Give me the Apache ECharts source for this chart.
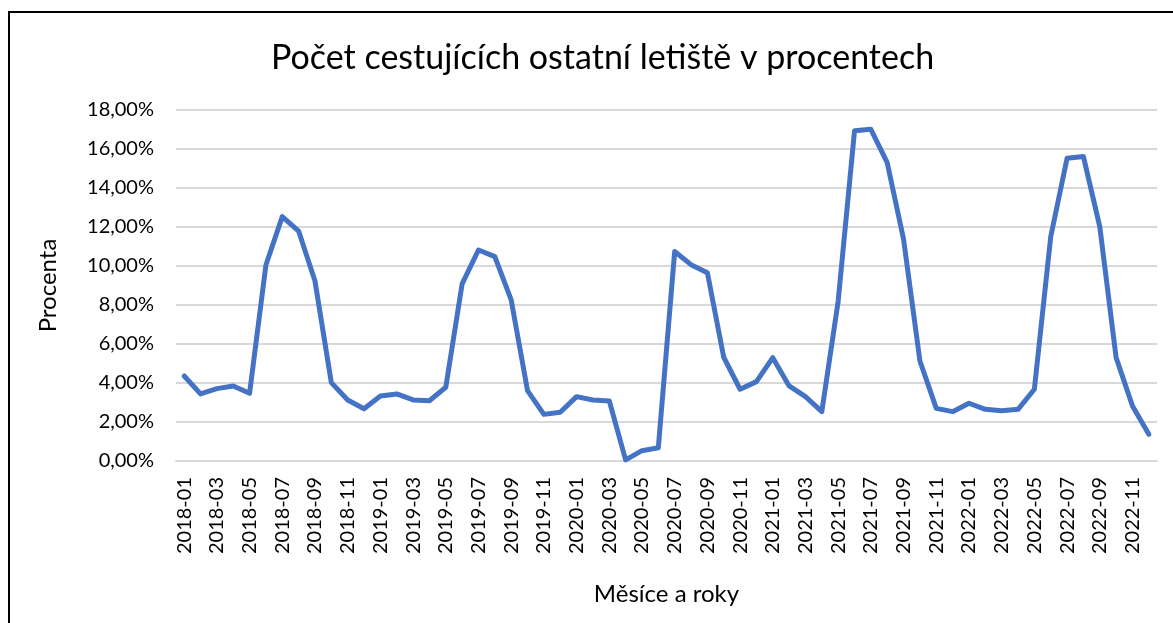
<!DOCTYPE html>
<html lang="cs">
<head>
  <meta charset="UTF-8" />
  <title>Počet cestujících ostatní letiště v procentech</title>
  <script src="https://cdn.jsdelivr.net/npm/echarts@6.0.0/dist/echarts.min.js"></script>
  <style>
    html, body { margin: 0; padding: 0; background: #fff; overflow: hidden; }
    #frame {
      position: absolute; left: 8px; top: 11px; width: 1200px; height: 700px;
      border-top: 2px solid #000; border-left: 2px solid #000;
    }
    #chart { position: absolute; left: 0; top: 0; width: 1173px; height: 623px; }
  </style>
</head>
<body>
  <div id="frame"></div>
  <div id="chart"></div>
  <script>
    // měsíce 2018-01 .. 2022-12
    const years = [2018, 2019, 2020, 2021, 2022];
    const months = [];
    years.forEach(y => {
      for (let m = 1; m <= 12; m++) months.push(y + '-' + String(m).padStart(2, '0'));
    });

    // podíl cestujících v %
    const share2018 = [4.36, 3.44, 3.71, 3.85, 3.47, 10.05, 12.53, 11.79, 9.23, 4.02, 3.13, 2.68];
    const share2019 = [3.33, 3.44, 3.13, 3.09, 3.78, 9.08, 10.82, 10.48, 8.26, 3.61, 2.39, 2.50];
    const share2020 = [3.30, 3.13, 3.08, 0.06, 0.53, 0.68, 10.74, 10.07, 9.66, 5.32, 3.68, 4.07];
    const share2021 = [5.30, 3.85, 3.30, 2.53, 8.20, 16.94, 17.01, 15.30, 11.37, 5.13, 2.70, 2.53];
    const share2022 = [2.96, 2.65, 2.58, 2.65, 3.68, 11.50, 15.52, 15.61, 12.02, 5.30, 2.82, 1.37];
    const share = [].concat(share2018, share2019, share2020, share2021, share2022);

    const font = 'Lato, "Open Sans", sans-serif';
    const chart = echarts.init(document.getElementById('chart'));

    chart.setOption({
      animation: false,
      title: {
        text: 'Počet cestujících ostatní letiště v procentech',
        left: 266,
        top: 36,
        textStyle: { fontFamily: font, fontSize: 34, fontWeight: 'normal', color: '#000' }
      },
      grid: { left: 176, right: 16, top: 110, bottom: 162 },
      xAxis: {
        type: 'category',
        data: months,
        name: 'Měsíce a roky',
        nameLocation: 'middle',
        nameGap: 121,
        nameTextStyle: { fontFamily: font, fontSize: 24, color: '#000' },
        axisTick: { show: false },
        axisLine: { lineStyle: { color: '#d9d9d9', width: 2 } },
        axisLabel: {
          rotate: 90, interval: 1, margin: 16,
          fontFamily: font, fontSize: 20, color: '#000'
        }
      },
      yAxis: {
        type: 'value',
        min: 0, max: 18, interval: 2,
        name: 'Procenta',
        nameLocation: 'middle',
        nameGap: 116,
        nameTextStyle: { fontFamily: font, fontSize: 24, color: '#000' },
        axisLine: { show: false },
        axisTick: { show: false },
        splitLine: { lineStyle: { color: '#d9d9d9', width: 2 } },
        axisLabel: {
          margin: 22,
          fontFamily: font, fontSize: 20, color: '#000',
          formatter: v => v.toFixed(2).replace('.', ',') + '%'
        }
      },
      series: [{
        type: 'line',
        data: share,
        symbol: 'none',
        lineStyle: { color: '#4472c4', width: 5, cap: 'round', join: 'round' }
      }]
    });
  </script>
</body>
</html>
